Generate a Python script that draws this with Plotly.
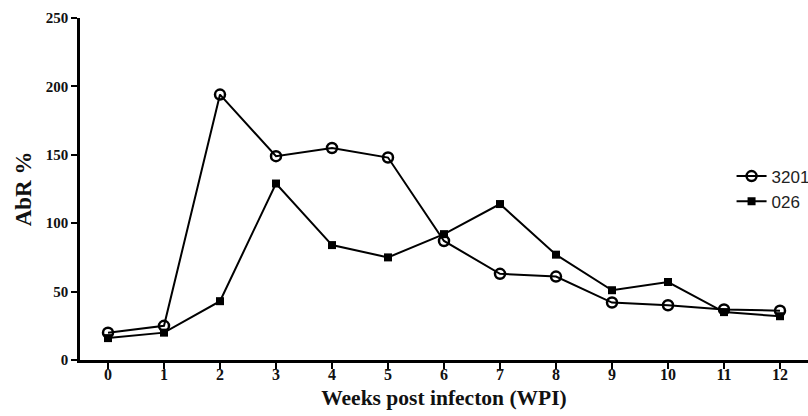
import plotly.graph_objects as go

weeks = list(range(13))
tick_labels = [str(w) for w in weeks]
y_ticks = [0, 50, 100, 150, 200, 250]
s3201 = [20, 25, 194, 149, 155, 148, 87, 63, 61, 42, 40, 37, 36]
s026 = [16, 20, 43, 129, 84, 75, 92, 114, 77, 51, 57, 35, 32]

fig = go.Figure()
fig.add_trace(go.Scatter(
    x=weeks, y=s3201, name="3201", mode="lines+markers",
    line=dict(color="black", width=2),
    marker=dict(symbol="circle-open", size=10, color="black", line=dict(width=2.5)),
))
fig.add_trace(go.Scatter(
    x=weeks, y=s026, name="026", mode="lines+markers",
    line=dict(color="black", width=2),
    marker=dict(symbol="square", size=8, color="black"),
))

serif = "Liberation Serif"
fig.update_layout(
    width=808, height=416,
    margin=dict(l=80, r=0, t=18, b=56, autoexpand=False),
    paper_bgcolor="white", plot_bgcolor="white",
    showlegend=True,
    legend=dict(x=0.895, y=0.5, xanchor="left", yanchor="middle",
                font=dict(family="Liberation Sans", size=17, color="#222"),
                bgcolor="rgba(0,0,0,0)", tracegroupgap=0),
    xaxis=dict(
        range=[-0.5, 12.5], tickvals=weeks,
        ticktext=["<b>%s</b>" % t for t in tick_labels],
        showline=True, linecolor="black", linewidth=2.5,
        ticks="outside", ticklen=6, tickwidth=2, tickcolor="black",
        showgrid=False, zeroline=False,
        tickfont=dict(family=serif, size=16, color="#111"),
        ticklabelstandoff=-8,
        title=dict(text="<b>Weeks post infecton (WPI)</b>",
                   font=dict(family=serif, size=21.5, color="#111"),
                   standoff=8),
    ),
    yaxis=dict(
        range=[0, 250], tickvals=y_ticks,
        ticktext=["<b>%d</b>" % v for v in y_ticks],
        showline=True, linecolor="black", linewidth=2.5,
        ticks="outside", ticklen=6, tickwidth=2, tickcolor="black",
        showgrid=False, zeroline=False,
        tickfont=dict(family=serif, size=15, color="#111"),
        title=dict(text="<b>AbR %</b>",
                   font=dict(family=serif, size=23, color="#111"),
                   standoff=8),
    ),
)
fig.write_html("out.html", config={"displayModeBar": False},
               post_script="document.body.style.margin='0';document.body.style.overflow='hidden';")
